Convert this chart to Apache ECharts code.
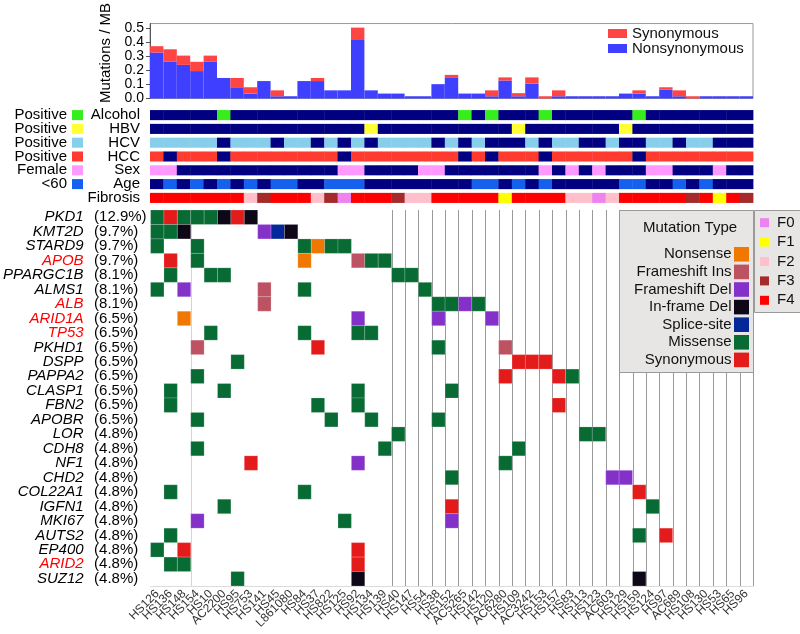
<!DOCTYPE html>
<html>
<head>
<meta charset="utf-8">
<script src="https://cdn.jsdelivr.net/npm/echarts@6/dist/echarts.min.js"></script>
<style>
  html, body { margin: 0; padding: 0; background: #fff; }
  #oncoprint { width: 800px; height: 634px; }
</style>
</head>
<body>
<div id="oncoprint"></div>
<script>
// ------------------------------
// Data
// ------------------------------
var samples = ['HS126','HS136','HS148','HS154','HS10','AC2200','HS95','HS753','HS141','HS45',
  'L861080','HS84','HS37','HS822','HS125','HS92','HS134','HS139','HS40','HS147',
  'HS54','HS38','HS152','AC5265','HS142','HS120','AC6280','HS109','AC3242','HS153',
  'HS157','HS83','HS113','HS123','AC603','HS129','HS159','HS124','HS97','AC689',
  'HS108','HS130','HS53','HS65','HS96'];

// mutations / MB
var nonsyn = [0.327,0.261,0.239,0.195,0.261,0.146,0.080,0.035,0.124,0.016,
  0.016,0.124,0.124,0.058,0.058,0.416,0.058,0.035,0.035,0.016,
  0.016,0.102,0.146,0.035,0.035,0.016,0.128,0.016,0.106,0,
  0.016,0.016,0.016,0.016,0.016,0.035,0.035,0.016,0.062,0.016,
  0,0.016,0.016,0.016,0.016];
var syn = [0.045,0.089,0.066,0.066,0.044,0,0.066,0.045,0,0.042,
  0,0,0.022,0,0,0.088,0,0,0,0,
  0,0,0.022,0,0,0.042,0.022,0.022,0.044,0.016,
  0.042,0,0,0,0,0,0.023,0,0.018,0.042,
  0.016,0,0,0,0];

// clinical tracks (1 = positive / female / <60)
var tracks = ['Alcohol','HBV','HCV','HCC','Sex','Age','Fibrosis'];
var trackLegend = ['Positive','Positive','Positive','Positive','Female','<60',''];
var alcohol = [0,0,0,0,0,1,0,0,0,0, 0,0,0,0,0,0,0,0,0,0, 0,0,0,1,0,1,0,0,0,1, 0,0,0,0,0,0,1,0,0,0, 0,0,0,0,0];
var hbv     = [0,0,0,0,0,0,0,0,0,0, 0,0,0,0,0,0,1,0,0,0, 0,0,0,0,0,0,0,1,0,0, 0,0,0,0,0,1,0,0,0,0, 0,0,0,0,0];
var hcv     = [1,1,1,1,1,0,1,1,1,0, 1,1,0,1,0,1,0,1,1,1, 1,0,1,0,1,0,0,0,1,0, 1,1,0,0,1,0,0,1,1,0, 1,1,0,0,0];
var hcc     = [1,0,1,1,1,0,1,1,1,1, 1,1,1,1,0,1,1,1,1,1, 1,1,1,0,1,0,1,1,1,0, 1,1,1,1,1,1,0,1,1,1, 1,1,1,1,1];
var female  = [1,1,0,0,0,0,0,0,0,0, 0,0,0,0,1,1,0,0,0,0, 1,1,0,0,0,0,0,0,0,1, 0,1,0,1,0,0,0,1,1,0, 0,0,1,0,0];
var under60 = [0,1,0,1,0,1,0,1,0,1, 1,0,0,1,1,1,0,0,0,0, 0,0,0,0,1,1,0,1,0,1, 0,0,0,0,0,1,1,0,0,1, 0,1,0,0,0];
var fibrosis = [4,4,4,4,4,4,4,2,3,4, 4,4,2,3,0,4,4,4,3,2, 2,4,4,4,4,4,1,4,4,4, 4,2,2,0,2,4,4,4,4,4, 3,4,1,4,3];
var fibStages = ['F0','F1','F2','F3','F4'];

// genes
var genes = ['PKD1','KMT2D','STARD9','APOB','PPARGC1B','ALMS1','ALB','ARID1A','TP53','PKHD1',
  'DSPP','PAPPA2','CLASP1','FBN2','APOBR','LOR','CDH8','NF1','CHD2','COL22A1',
  'IGFN1','MKI67','AUTS2','EP400','ARID2','SUZ12'];
var genePct = ['(12.9%)','(9.7%)','(9.7%)','(9.7%)','(8.1%)','(8.1%)','(8.1%)','(6.5%)','(6.5%)','(6.5%)',
  '(6.5%)','(6.5%)','(6.5%)','(6.5%)','(6.5%)','(4.8%)','(4.8%)','(4.8%)','(4.8%)','(4.8%)',
  '(4.8%)','(4.8%)','(4.8%)','(4.8%)','(4.8%)','(4.8%)'];
var redGenes = ['APOB','ALB','ARID1A','TP53','ARID2'];

var mutTypes = ['Nonsense','Frameshift Ins','Frameshift Del','In-frame Del','Splice-site','Missense','Synonymous'];
var mutCodes = ['N','I','D','F','P','M','S'];
// [gene, sample index, type code]
var mutations = [
  ['PKD1',0,'M'],['PKD1',1,'S'],['PKD1',2,'M'],['PKD1',3,'M'],['PKD1',4,'M'],['PKD1',5,'F'],['PKD1',6,'S'],['PKD1',7,'F'],
  ['KMT2D',0,'M'],['KMT2D',1,'M'],['KMT2D',2,'F'],['KMT2D',8,'D'],['KMT2D',9,'P'],['KMT2D',10,'F'],
  ['STARD9',0,'M'],['STARD9',3,'M'],['STARD9',11,'M'],['STARD9',12,'N'],['STARD9',13,'M'],['STARD9',14,'M'],
  ['APOB',1,'S'],['APOB',3,'M'],['APOB',11,'N'],['APOB',15,'I'],['APOB',16,'M'],['APOB',17,'M'],
  ['PPARGC1B',1,'M'],['PPARGC1B',4,'M'],['PPARGC1B',5,'M'],['PPARGC1B',18,'M'],['PPARGC1B',19,'M'],
  ['ALMS1',0,'M'],['ALMS1',2,'D'],['ALMS1',8,'I'],['ALMS1',11,'M'],['ALMS1',20,'M'],
  ['ALB',8,'I'],['ALB',21,'M'],['ALB',22,'M'],['ALB',23,'D'],['ALB',24,'M'],
  ['ARID1A',2,'N'],['ARID1A',15,'D'],['ARID1A',21,'D'],['ARID1A',25,'D'],
  ['TP53',4,'M'],['TP53',11,'M'],['TP53',15,'M'],['TP53',16,'M'],
  ['PKHD1',3,'I'],['PKHD1',12,'S'],['PKHD1',21,'M'],['PKHD1',26,'I'],
  ['DSPP',6,'M'],['DSPP',27,'S'],['DSPP',28,'S'],['DSPP',29,'S'],
  ['PAPPA2',3,'M'],['PAPPA2',26,'S'],['PAPPA2',30,'S'],['PAPPA2',31,'M'],
  ['CLASP1',1,'M'],['CLASP1',5,'M'],['CLASP1',15,'M'],['CLASP1',22,'M'],
  ['FBN2',1,'M'],['FBN2',12,'M'],['FBN2',15,'M'],['FBN2',30,'S'],
  ['APOBR',3,'M'],['APOBR',13,'M'],['APOBR',16,'M'],['APOBR',21,'M'],
  ['LOR',18,'M'],['LOR',32,'M'],['LOR',33,'M'],
  ['CDH8',3,'M'],['CDH8',17,'M'],['CDH8',27,'M'],
  ['NF1',7,'S'],['NF1',15,'D'],['NF1',26,'M'],
  ['CHD2',22,'M'],['CHD2',34,'D'],['CHD2',35,'D'],
  ['COL22A1',1,'M'],['COL22A1',11,'M'],['COL22A1',36,'S'],
  ['IGFN1',5,'M'],['IGFN1',22,'S'],['IGFN1',37,'M'],
  ['MKI67',3,'D'],['MKI67',14,'M'],['MKI67',22,'D'],
  ['AUTS2',1,'M'],['AUTS2',36,'M'],['AUTS2',38,'S'],
  ['EP400',0,'M'],['EP400',2,'S'],['EP400',15,'S'],
  ['ARID2',1,'M'],['ARID2',2,'M'],['ARID2',15,'S'],
  ['SUZ12',6,'M'],['SUZ12',15,'F'],['SUZ12',36,'F']
];

// ------------------------------
// Styles
// ------------------------------
var FONT = '"Liberation Sans", Arial, sans-serif';
var negColor = '#000080';
var posColors = ['#35ee1c', '#ffff33', '#87ceeb', '#ff3b30', '#ff99ff', '#1560ec'];
var fibColors = ['#ee82ee', '#ffff00', '#ffc0cb', '#a52a2a', '#ff0000'];
var mutColors = ['#f07800', '#bd5262', '#8431c9', '#0d0718', '#04279a', '#086b34', '#e31b1b'];

// build series data
var trackValues = [alcohol, hbv, hcv, hcc, female, under60, fibrosis];
var trackData = [];
trackValues.forEach(function (arr, t) {
    arr.forEach(function (v, i) { trackData.push([i, t, v]); });
});

var cellData = mutations.map(function (m) {
    return [m[1], genes.indexOf(m[0]), mutCodes.indexOf(m[2])];
});

// grid lines between sample columns (col boundary index)
var lineData = [[3]];
for (var b = 18; b <= samples.length; b++) lineData.push([b]);

function renderTrack(params, api) {
    var t = api.value(1), v = api.value(2);
    var c = api.coord([api.value(0), t]);
    var s = api.size([1, 1]);
    var h = s[1] * 0.73;
    var fill = t === 6 ? fibColors[v] : (v ? posColors[t] : negColor);
    return {
        type: 'rect',
        shape: { x: c[0] - s[0] / 2, y: c[1] - h / 2, width: s[0] + 0.4, height: h },
        style: { fill: fill }
    };
}

function renderCell(params, api) {
    var c = api.coord([api.value(0), api.value(1)]);
    var s = api.size([1, 1]);
    return {
        type: 'rect',
        shape: { x: c[0] - s[0] / 2, y: c[1] - s[1] / 2, width: s[0], height: s[1] },
        style: { fill: mutColors[api.value(2)], stroke: 'rgba(255,255,255,0.3)', lineWidth: 0.6 }
    };
}

function renderLine(params, api) {
    var bIdx = api.value(0);
    var s = api.size([1, 1]);
    var x = api.coord([bIdx - 1, 0])[0] + s[0] / 2;
    var top = api.coord([0, 0])[1] - s[1] / 2;
    var bottom = api.coord([0, genes.length - 1])[1] + s[1] / 2;
    return {
        type: 'line',
        shape: { x1: Math.round(x) + 0.5, y1: top, x2: Math.round(x) + 0.5, y2: bottom },
        style: { stroke: bIdx === 3 ? '#d4d4d4' : '#9a9a9a', lineWidth: 1 }
    };
}

// legend boxes (drawn with graphic elements)
var graphics = [];
graphics.push({ type: 'rect', z: 100, shape: { x: 619.5, y: 210.5, width: 134, height: 162 },
    style: { fill: '#e8e6e4', stroke: '#9a9a9a', lineWidth: 1 } });
graphics.push({ type: 'text', z: 101, x: 690, y: 228,
    style: { text: 'Mutation Type', fontSize: 15, fontFamily: FONT, fill: '#111', align: 'center', verticalAlign: 'middle' } });
mutTypes.forEach(function (name, k) {
    var y = 254.3 + k * 17.6;
    graphics.push({ type: 'text', z: 101, x: 731.5, y: y,
        style: { text: name, fontSize: 15, fontFamily: FONT, fill: '#111', align: 'right', verticalAlign: 'middle' } });
    graphics.push({ type: 'rect', z: 101, shape: { x: 734, y: y - 7.3, width: 15, height: 14.6 },
        style: { fill: mutColors[k] } });
});
graphics.push({ type: 'rect', z: 99, shape: { x: 754.5, y: 210.5, width: 60, height: 102 },
    style: { fill: '#e8e6e4', stroke: '#9a9a9a', lineWidth: 1 } });
fibStages.forEach(function (name, k) {
    var y = 222.7 + k * 19.4;
    graphics.push({ type: 'rect', z: 101, shape: { x: 760, y: y - 4.5, width: 9, height: 9 },
        style: { fill: fibColors[k] } });
    graphics.push({ type: 'text', z: 101, x: 777, y: y,
        style: { text: name, fontSize: 15, fontFamily: FONT, fill: '#111', align: 'left', verticalAlign: 'middle' } });
});

// rich styles for the track legend squares
var trackRich = { a: { fontSize: 15, fontFamily: FONT, color: '#000', align: 'right', padding: [0, 5, 0, 0] } };
posColors.forEach(function (c, k) {
    trackRich['s' + k] = { width: 11, height: 10, backgroundColor: c, align: 'right' };
});

var myChart = echarts.init(document.getElementById('oncoprint'));

var option = {
    animation: false,
    textStyle: { fontFamily: FONT },
    grid: [
        { left: 150, right: 47, top: 18, height: 80.5, show: true, borderColor: '#999', borderWidth: 1 },
        { left: 150, right: 47, top: 108.2, height: 96.6 },
        { left: 150, right: 47, top: 210, height: 376 }
    ],
    legend: {
        data: ['Synonymous', 'Nonsynonymous'],
        orient: 'vertical',
        left: 608,
        top: 26,
        padding: 0,
        itemGap: 0,
        itemWidth: 19,
        itemHeight: 9,
        icon: 'rect',
        textStyle: { fontSize: 15, fontFamily: FONT, color: '#111', lineHeight: 14 }
    },
    xAxis: [
        { type: 'category', gridIndex: 0, data: samples, show: false },
        { type: 'category', gridIndex: 1, data: samples, show: false },
        {
            type: 'category', gridIndex: 2, data: samples, position: 'bottom',
            axisLine: { lineStyle: { color: '#dcdcdc' } },
            axisTick: { show: false },
            axisLabel: { interval: 0, rotate: 45, fontSize: 12, color: '#333', margin: 6 }
        }
    ],
    yAxis: [
        {
            type: 'value', gridIndex: 0, min: 0, max: 0.533, interval: 0.1,
            name: 'Mutations / MB', nameLocation: 'middle', nameGap: 37,
            nameTextStyle: { fontSize: 15, color: '#000', padding: [0, 0, 0, 16] },
            axisLine: { show: true, lineStyle: { color: '#555' } },
            axisTick: { show: true, length: 4, lineStyle: { color: '#555' } },
            splitLine: { show: false },
            axisLabel: { fontSize: 14, lineHeight: 13, color: '#000', margin: 6,
                showMinLabel: true, showMaxLabel: false, hideOverlap: false,
                formatter: function (v) { return v.toFixed(1); } }
        },
        {
            type: 'category', gridIndex: 1, data: tracks, inverse: true,
            axisLine: { show: false }, axisTick: { show: false },
            axisLabel: { interval: 0, fontSize: 15, color: '#000', margin: 10 }
        },
        {
            type: 'category', gridIndex: 1, data: tracks, inverse: true, position: 'left',
            axisLine: { show: false }, axisTick: { show: false },
            axisLabel: {
                interval: 0, margin: 67,
                formatter: function (v, i) {
                    return trackLegend[i] ? '{a|' + trackLegend[i] + '}{s' + i + '|}' : '';
                },
                rich: trackRich
            }
        },
        {
            type: 'category', gridIndex: 2, data: genes, inverse: true,
            axisLine: { show: false }, axisTick: { show: false },
            axisLabel: {
                interval: 0, fontSize: 15, fontStyle: 'italic', margin: 67,
                color: function (v) { return redGenes.indexOf(v) >= 0 ? '#ff0000' : '#000'; }
            }
        },
        {
            type: 'category', gridIndex: 2, data: genes, inverse: true, position: 'left',
            axisLine: { show: false }, axisTick: { show: false },
            axisLabel: {
                interval: 0, fontSize: 15, color: '#000', align: 'left', margin: 56.5,
                formatter: function (v, i) { return genePct[i]; }
            }
        }
    ],
    series: [
        {
            name: 'Nonsynonymous', type: 'bar', stack: 'rate', xAxisIndex: 0, yAxisIndex: 0,
            barWidth: '100%', data: nonsyn, itemStyle: { color: '#3f3fff' }
        },
        {
            name: 'Synonymous', type: 'bar', stack: 'rate', xAxisIndex: 0, yAxisIndex: 0,
            barWidth: '100%', data: syn, itemStyle: { color: '#ff4444' }
        },
        {
            name: 'tracks', type: 'custom', xAxisIndex: 1, yAxisIndex: 1,
            renderItem: renderTrack, data: trackData
        },
        {
            name: 'lines', type: 'custom', xAxisIndex: 2, yAxisIndex: 3, z: 1,
            renderItem: renderLine, data: lineData.map(function (d) { return [d[0], 0]; })
        },
        {
            name: 'mutations', type: 'custom', xAxisIndex: 2, yAxisIndex: 3, z: 3,
            renderItem: renderCell, data: cellData
        }
    ],
    graphic: graphics
};

myChart.setOption(option);
</script>
</body>
</html>
